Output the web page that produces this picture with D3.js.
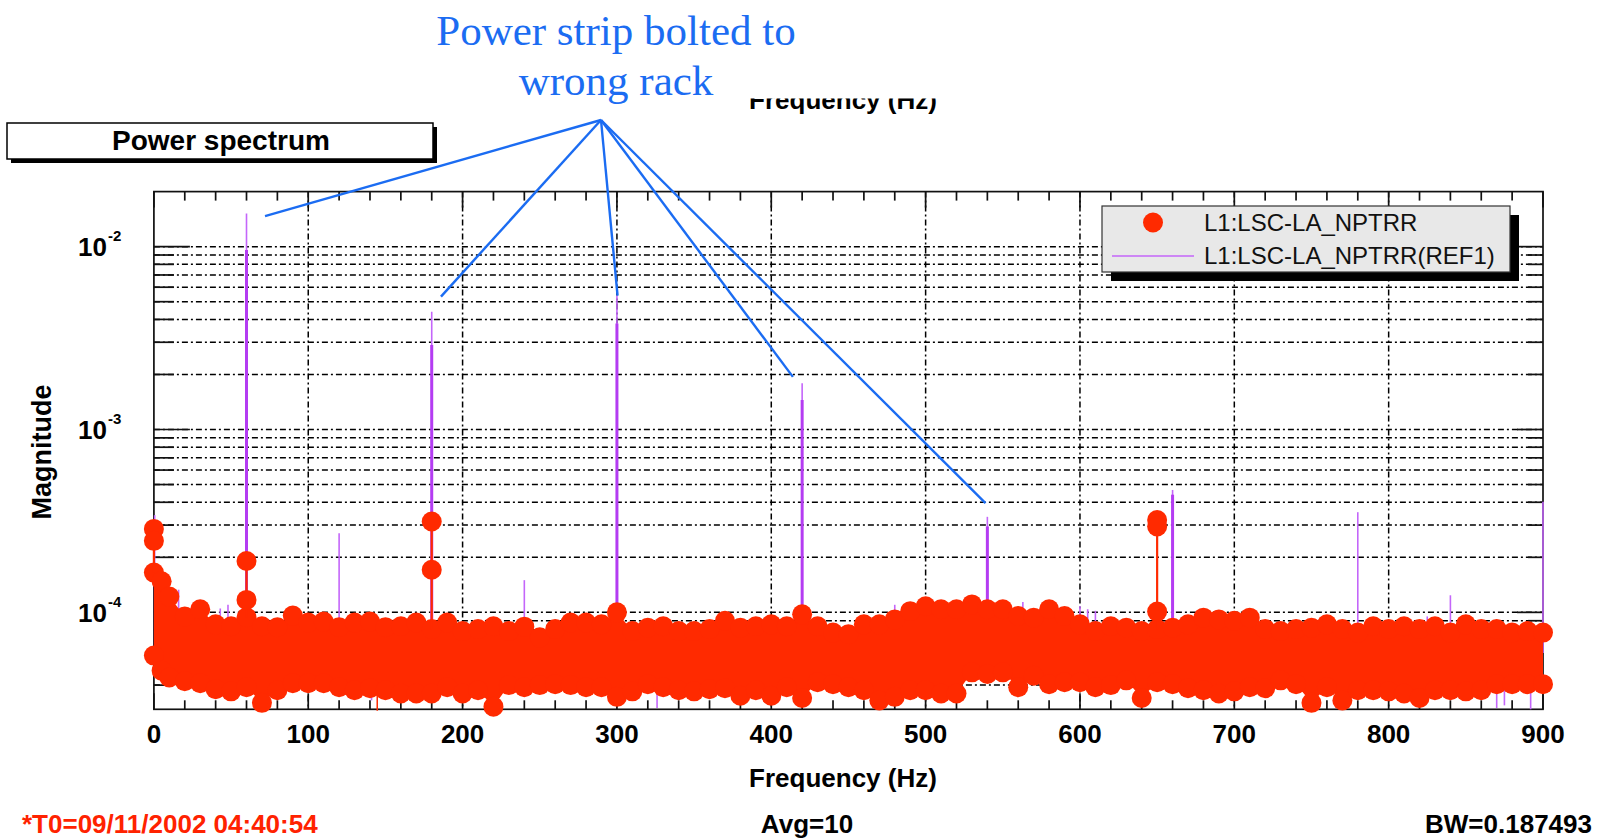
<!doctype html>
<html lang="en">
<head>
  <meta charset="utf-8">
  <title>Power spectrum - D3</title>
  <style>
    body { margin: 0; background: #fff; }
    svg { display: block; font-family: "Liberation Sans", Arial, Helvetica, sans-serif; }
  </style>
</head>
<body>
  <svg width="1598" height="838"></svg>

  <script src="https://cdn.jsdelivr.net/npm/d3@7/dist/d3.min.js"></script>
  <script>
    // noise band of the current trace: upper and lower dot rows
    var bandHz = [0, 5, 10, 20, 30, 40, 50, 60, 70, 80, 90, 100, 110, 120, 130, 140, 150, 160, 170, 180,
      190, 200, 210, 220, 230, 240, 250, 260, 270, 280, 290, 300, 310, 320, 330, 340, 350, 360, 370, 380,
      390, 400, 410, 420, 430, 440, 450, 460, 470, 480, 490, 500, 510, 520, 530, 540, 550, 560, 570, 580,
      590, 600, 610, 620, 630, 640, 650, 660, 670, 680, 690, 700, 710, 720, 730, 740, 750, 760, 770, 780,
      790, 800, 810, 820, 830, 840, 850, 860, 870, 880, 890, 900];
    var bandHigh = [1.65e-4, 1.48e-4, 1.22e-4, 0.95e-4, 1.04e-4, 0.86e-4, 0.84e-4, 0.94e-4, 0.84e-4, 0.83e-4,
      0.96e-4, 0.88e-4, 0.89e-4, 0.83e-4, 0.88e-4, 0.89e-4, 0.83e-4, 0.84e-4, 0.88e-4, 0.81e-4,
      0.88e-4, 0.79e-4, 0.81e-4, 0.84e-4, 0.79e-4, 0.835e-4, 0.73e-4, 0.81e-4, 0.88e-4, 0.88e-4,
      0.86e-4, 1.00e-4, 0.79e-4, 0.825e-4, 0.84e-4, 0.79e-4, 0.79e-4, 0.81e-4, 0.90e-4, 0.825e-4,
      0.84e-4, 0.86e-4, 0.84e-4, 0.975e-4, 0.84e-4, 0.775e-4, 0.76e-4, 0.86e-4, 0.86e-4, 0.915e-4,
      1.015e-4, 1.08e-4, 1.04e-4, 1.04e-4, 1.105e-4, 1.04e-4, 1.04e-4, 0.955e-4, 0.935e-4, 1.04e-4,
      0.955e-4, 0.86e-4, 0.79e-4, 0.84e-4, 0.825e-4, 0.79e-4, 0.81e-4, 0.825e-4, 0.86e-4, 0.935e-4,
      0.915e-4, 0.90e-4, 0.935e-4, 0.81e-4, 0.79e-4, 0.81e-4, 0.825e-4, 0.86e-4, 0.81e-4, 0.775e-4,
      0.84e-4, 0.81e-4, 0.84e-4, 0.81e-4, 0.84e-4, 0.775e-4, 0.86e-4, 0.81e-4, 0.81e-4, 0.775e-4,
      0.79e-4, 0.775e-4];
    var bandLow = [0.58e-4, 0.48e-4, 0.44e-4, 0.42e-4, 0.41e-4, 0.38e-4, 0.37e-4, 0.39e-4, 0.32e-4, 0.375e-4,
      0.41e-4, 0.41e-4, 0.41e-4, 0.39e-4, 0.375e-4, 0.385e-4, 0.375e-4, 0.36e-4, 0.36e-4, 0.36e-4,
      0.39e-4, 0.36e-4, 0.375e-4, 0.305e-4, 0.40e-4, 0.39e-4, 0.40e-4, 0.405e-4, 0.40e-4, 0.39e-4,
      0.39e-4, 0.345e-4, 0.37e-4, 0.405e-4, 0.39e-4, 0.375e-4, 0.37e-4, 0.38e-4, 0.385e-4, 0.35e-4,
      0.375e-4, 0.35e-4, 0.39e-4, 0.34e-4, 0.415e-4, 0.405e-4, 0.39e-4, 0.375e-4, 0.33e-4, 0.345e-4,
      0.375e-4, 0.375e-4, 0.36e-4, 0.36e-4, 0.47e-4, 0.46e-4, 0.47e-4, 0.39e-4, 0.45e-4, 0.405e-4,
      0.415e-4, 0.415e-4, 0.39e-4, 0.40e-4, 0.425e-4, 0.34e-4, 0.415e-4, 0.405e-4, 0.385e-4, 0.375e-4,
      0.36e-4, 0.37e-4, 0.39e-4, 0.385e-4, 0.425e-4, 0.405e-4, 0.32e-4, 0.39e-4, 0.33e-4, 0.375e-4,
      0.375e-4, 0.37e-4, 0.36e-4, 0.34e-4, 0.375e-4, 0.375e-4, 0.37e-4, 0.375e-4, 0.405e-4, 0.405e-4,
      0.405e-4, 0.405e-4];

    // points of the current trace standing out of the band
    var peakHz = [0, 0, 60, 60, 180, 180, 650, 650, 650];
    var peakMag = [2.86e-4, 2.46e-4, 1.91e-4, 1.17e-4, 3.14e-4, 1.71e-4, 3.2e-4, 2.95e-4, 1.01e-4];
    var dipHz = [144.7];
    var dipMag = [2.9e-5];

    // reference trace (REF1): lines, tip value and value of the neighbour bin (0 = none)
    var refHz = [0.5, 8, 16, 43, 48, 60, 120, 141, 180, 240, 300, 326, 420, 480, 481, 484, 540, 563,
      600, 605, 610, 660, 780, 825, 840, 870, 875, 892, 900];
    var refTip = [3.4e-4, 1.45e-4, 1.33e-4, 1.05e-4, 1.1e-4, 0.0152, 2.71e-4, 3.3e-5, 0.0044, 1.5e-4, 0.0054,
      3.0e-5, 0.00179, 1.1e-4, 3.4e-5, 3.2e-5, 3.33e-4, 1.14e-4, 1.08e-4, 1.04e-4, 1.02e-4, 4.67e-4,
      3.53e-4, 9.5e-5, 1.24e-4, 3.0e-5, 3.1e-5, 2.95e-5, 4.03e-4];
    var refBody = [0, 0, 0, 0, 0, 0.0096, 0, 0, 0.0029, 0, 0.0038, 0, 0.00145, 0, 0, 0, 2.95e-4, 0,
      0, 0, 0, 4.4e-4, 0, 0, 0, 0, 0, 0, 0];
    var refFloor = 6e-5;

    var xTickValues = [0, 100, 200, 300, 400, 500, 600, 700, 800, 900];
    var yDecades = [1e-4, 1e-3, 1e-2];
    var yDecadeExp = ['-4', '-3', '-2'];

    // annotation targets (Hz, magnitude)
    var noteHz = [72, 186, 300.4, 414, 538.8];
    var noteMag = [0.0147, 0.00533, 0.0054, 0.00194, 3.96e-4];

    var legendNames = ['L1:LSC-LA_NPTRR', 'L1:LSC-LA_NPTRR(REF1)'];

    var red = '#ff2a00';
    var purple = '#b43cf2';
    var purpleTip = '#c466fa';
    var blue = '#1b6cf2';

    var svg = d3.select('svg');
    var pL = 153.9, pR = 1543, pT = 191.6, pB = 709.3;
    var x = d3.scaleLinear().domain([0, 900]).range([pL, pR]);
    var y = d3.scaleLog().domain([2.95e-5, 0.02]).range([pB, pT]);

    // grid
    var grid = svg.append('g').attr('stroke', '#000').attr('stroke-width', 1.5)
      .attr('stroke-dasharray', '6,3,2,3').attr('fill', 'none');
    var yGrid = y.ticks().filter(v => y(v) > pT + 1 && y(v) < pB - 2);
    grid.selectAll('.hg').data(yGrid).enter().append('line')
      .attr('x1', pL).attr('x2', pR)
      .attr('y1', v => y(v)).attr('y2', v => y(v));
    grid.selectAll('.vg').data(xTickValues.slice(1, -1)).enter().append('line')
      .attr('y1', pT).attr('y2', pB)
      .attr('x1', v => x(v)).attr('x2', v => x(v));

    // frame and ticks
    var axis = svg.append('g').attr('stroke', '#111').attr('stroke-width', 1.7);
    axis.append('rect').attr('x', pL).attr('y', pT).attr('width', pR - pL).attr('height', pB - pT)
      .attr('fill', 'none');
    var isDecade = v => Math.abs(Math.log10(v) - Math.round(Math.log10(v))) < 1e-6;
    axis.selectAll('.yl').data(yGrid).enter().append('line')
      .attr('x1', pL).attr('x2', v => pL + (isDecade(v) ? 36 : 20))
      .attr('y1', v => y(v)).attr('y2', v => y(v));
    axis.selectAll('.yr').data(yGrid).enter().append('line')
      .attr('x1', pR).attr('x2', v => pR - (isDecade(v) ? 26 : 15))
      .attr('y1', v => y(v)).attr('y2', v => y(v));
    var minorX = d3.range(0, 901, 20);
    axis.selectAll('.xb').data(minorX).enter().append('line')
      .attr('x1', v => x(v)).attr('x2', v => x(v))
      .attr('y1', pB).attr('y2', v => pB - (v % 100 === 0 ? 16 : 9));
    axis.selectAll('.xt').data(minorX).enter().append('line')
      .attr('x1', v => x(v)).attr('x2', v => x(v))
      .attr('y1', pT).attr('y2', v => pT + (v % 100 === 0 ? 16 : 9));

    // tick labels
    svg.append('g').selectAll('text').data(xTickValues).enter().append('text')
      .attr('x', v => x(v)).attr('y', 743).attr('text-anchor', 'middle')
      .attr('font-size', 26).attr('font-weight', 'bold').text(v => v);
    var yl = svg.append('g').attr('font-weight', 'bold');
    yl.selectAll('.ten').data(yDecades).enter().append('text')
      .attr('x', 107).attr('y', v => y(v) + 9.2).attr('text-anchor', 'end')
      .attr('font-size', 26).text('10');
    yl.selectAll('.exp').data(yDecades).enter().append('text')
      .attr('x', 108).attr('y', v => y(v) - 5.5)
      .attr('font-size', 15).text((v, i) => yDecadeExp[i]);

    svg.append('text').attr('x', 843).attr('y', 787).attr('text-anchor', 'middle')
      .attr('font-size', 26).attr('font-weight', 'bold').text('Frequency (Hz)');
    svg.append('text').attr('transform', 'translate(51,452) rotate(-90)').attr('text-anchor', 'middle')
      .attr('font-size', 27).attr('font-weight', 'bold').text('Magnitude');

    // top title partly hidden behind the annotation
    svg.append('clipPath').attr('id', 'topclip').append('rect')
      .attr('x', 600).attr('y', 98.5).attr('width', 500).attr('height', 40);
    svg.append('text').attr('x', 843).attr('y', 109).attr('text-anchor', 'middle')
      .attr('clip-path', 'url(#topclip)')
      .attr('font-size', 26).attr('font-weight', 'bold').text('Frequency (Hz)');

    // reference trace lines
    var ref = svg.append('g');
    ref.selectAll('.tip').data(refHz).enter().append('line')
      .attr('x1', v => x(v)).attr('x2', v => x(v))
      .attr('y1', y(refFloor)).attr('y2', (v, i) => y(refTip[i]))
      .attr('stroke', purpleTip).attr('stroke-width', 1.6);
    ref.selectAll('.body').data(refHz.filter((v, i) => refBody[i] > 0)).enter().append('line')
      .attr('x1', v => x(v)).attr('x2', v => x(v))
      .attr('y1', y(refFloor)).attr('y2', v => y(refBody[refHz.indexOf(v)]))
      .attr('stroke', purple).attr('stroke-width', 3);

    // current trace
    var cur = svg.append('g').attr('fill', red);
    var band = bandHz.map((f, i) => ({ f: f, hi: bandHigh[i], lo: bandLow[i] }));
    cur.append('path').datum(band)
      .attr('d', d3.area().x(d => x(d.f)).y0(d => y(d.lo)).y1(d => y(d.hi)));
    cur.selectAll('.hi').data(band).enter().append('circle')
      .attr('cx', d => x(d.f)).attr('cy', d => y(d.hi)).attr('r', 10);
    cur.selectAll('.lo').data(band).enter().append('circle')
      .attr('cx', d => x(d.f)).attr('cy', d => y(d.lo)).attr('r', 10);

    var peakGroups = Array.from(new Set(peakHz));
    cur.selectAll('.pl').data(peakGroups).enter().append('line')
      .attr('x1', f => x(f)).attr('x2', f => x(f))
      .attr('y1', f => y(d3.max(peakMag.filter((m, i) => peakHz[i] === f))))
      .attr('y2', f => y(bandHigh[bandHz.indexOf(f)]))
      .attr('stroke', red).attr('stroke-width', 2.2);
    cur.selectAll('.pk').data(peakHz).enter().append('circle')
      .attr('cx', f => x(f)).attr('cy', (f, i) => y(peakMag[i])).attr('r', 10);
    cur.selectAll('.dip').data(dipHz).enter().append('line')
      .attr('x1', f => x(f)).attr('x2', f => x(f))
      .attr('y1', f => y(bandLow[d3.bisectLeft(bandHz, f)])).attr('y2', (f, i) => y(dipMag[i]))
      .attr('stroke', red).attr('stroke-width', 1.5);

    // "Power spectrum" title box
    var tb = svg.append('g');
    tb.append('rect').attr('x', 11).attr('y', 127).attr('width', 426).attr('height', 36).attr('fill', '#000');
    tb.append('rect').attr('x', 7).attr('y', 123).attr('width', 426).attr('height', 36)
      .attr('fill', '#fff').attr('stroke', '#000').attr('stroke-width', 1.5);
    tb.append('text').attr('x', 221).attr('y', 150).attr('text-anchor', 'middle')
      .attr('font-size', 28).attr('font-weight', 'bold').text('Power spectrum');

    // legend
    var lg = svg.append('g');
    lg.append('rect').attr('x', 1111).attr('y', 215).attr('width', 408).attr('height', 66).attr('fill', '#000');
    lg.append('rect').attr('x', 1102).attr('y', 206).attr('width', 408).attr('height', 66)
      .attr('fill', '#e8e8e8').attr('stroke', '#333').attr('stroke-width', 1.2);
    lg.append('circle').attr('cx', 1153).attr('cy', 222.5).attr('r', 10).attr('fill', red);
    lg.append('line').attr('x1', 1112).attr('x2', 1194).attr('y1', 256).attr('y2', 256)
      .attr('stroke', purpleTip).attr('stroke-width', 1.6);
    lg.selectAll('text').data(legendNames).enter().append('text')
      .attr('x', 1204).attr('y', (d, i) => 230.5 + i * 33)
      .attr('font-size', 24).attr('fill', '#111').text(d => d);

    // annotation
    var apex = [601, 120];
    var note = svg.append('g');
    note.selectAll('line').data(noteHz).enter().append('line')
      .attr('x1', apex[0]).attr('y1', apex[1])
      .attr('x2', f => x(f)).attr('y2', (f, i) => y(noteMag[i]))
      .attr('stroke', blue).attr('stroke-width', 2.4);
    note.selectAll('text').data(['Power strip bolted to', 'wrong rack']).enter().append('text')
      .attr('x', 616).attr('y', (d, i) => 45 + i * 50).attr('text-anchor', 'middle')
      .style('font-family', '"Liberation Serif", "Times New Roman", serif')
      .attr('font-size', 43).attr('fill', blue).text(d => d);

    // footer
    var foot = svg.append('g').attr('font-size', 26).attr('font-weight', 'bold');
    foot.append('text').attr('x', 22).attr('y', 833).attr('fill', '#ff2200').text('*T0=09/11/2002 04:40:54');
    foot.append('text').attr('x', 807).attr('y', 833).attr('text-anchor', 'middle').text('Avg=10');
    foot.append('text').attr('x', 1592).attr('y', 833).attr('text-anchor', 'end').text('BW=0.187493');
  </script>
</body>
</html>
